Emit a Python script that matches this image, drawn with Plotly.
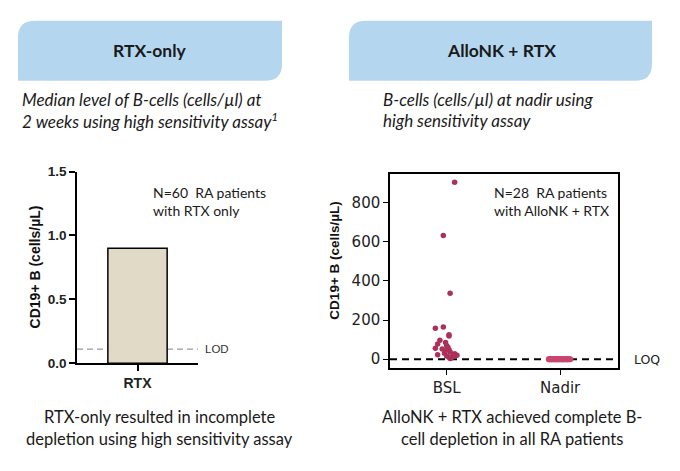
import plotly.graph_objects as go

# the page body keeps its default 8px margin on every side, so the figure is
# made 16px smaller than the 680x471 window and positions are shifted by 8px
OFF = 8
W, H = 680 - 2 * OFF, 471 - 2 * OFF

# ---- data ----
rtx_cats = ["RTX"]
rtx_median = [0.90]
lod_value = 0.11

groups = ["BSL", "Nadir"]
bsl_values = [904, 632, 337, 158, 164, 125, 118, 97, 85, 77, 69, 61, 56, 48,
              44, 36, 28, 23, 23, 20, 16, 16, 10, 6, 3, 30, 52, 12]
bsl_jitter = [0.07, -0.03, 0.03, -0.10, -0.03, 0.02, 0.02, -0.06, -0.01, -0.08,
              0.00, 0.01, -0.10, 0.02, -0.01, 0.03, 0.07, -0.08, 0.06, 0.09,
              0.00, 0.07, 0.02, 0.04, 0.03, -0.02, -0.04, 0.05]
nadir_values = [0] * 28
nadir_jitter = [-0.10, -0.09, -0.08, -0.07, -0.06, -0.05, -0.04, -0.03, -0.02,
                -0.01, 0.00, 0.01, 0.02, 0.03, 0.04, 0.05, 0.06, 0.07, 0.08,
                0.09, -0.095, -0.075, -0.055, -0.035, -0.015, 0.015, 0.035, 0.065]
loq_value = 0
right_ticks = [0, 200, 400, 600, 800]
left_ticks = [0.0, 0.5, 1.0, 1.5]


def px(x):
    return (x - OFF) / W


def py(y):
    return 1 - (y - OFF) / H


fig = go.Figure()

# left: bar chart
fig.add_trace(go.Bar(
    x=[0], y=rtx_median, width=0.49,
    marker=dict(color="#E0DAC6", line=dict(color="black", width=1.5)),
    xaxis="x", yaxis="y", showlegend=False, hoverinfo="skip",
))

# right: dot plot
fig.add_trace(go.Scatter(
    x=[j for j in bsl_jitter], y=bsl_values, mode="markers",
    marker=dict(color="#AC3158", size=5.5),
    xaxis="x2", yaxis="y2", showlegend=False,
))
fig.add_trace(go.Scatter(
    x=[1 + j for j in nadir_jitter], y=nadir_values, mode="markers",
    marker=dict(color="#C8466E", size=6),
    xaxis="x2", yaxis="y2", showlegend=False,
))

axis_common = dict(showgrid=False, zeroline=False, linecolor="black",
                   ticks="outside", tickcolor="black")

fig.update_layout(
    width=W, height=H,
    margin=dict(l=0, r=0, t=0, b=0),
    paper_bgcolor="white", plot_bgcolor="white",
    xaxis=dict(domain=[px(77), px(198)], range=[-0.5, 0.5], anchor="y",
               tickvals=[0], ticktext=rtx_cats, linewidth=1.5, tickwidth=1.5,
               ticklen=6, tickfont=dict(family="Liberation Sans", size=14,
                                        color="#222", weight="bold"),
               **axis_common),
    yaxis=dict(domain=[py(368), py(170)], range=[0, 1.5], anchor="x",
               tickvals=left_ticks, tickformat=".1f", linewidth=1.5,
               tickwidth=1.5, ticklen=6,
               tickfont=dict(family="Liberation Sans", size=13.5, color="#222",
                             weight="bold"),
               **axis_common),
    xaxis2=dict(domain=[px(390), px(618)], range=[-0.5, 1.51], anchor="y2",
                tickvals=[0, 1], ticktext=groups, linewidth=1.5, tickwidth=1.2,
                ticklen=5, mirror=True,
                tickfont=dict(family="DejaVu Sans", size=15, color="#222"),
                **axis_common),
    yaxis2=dict(domain=[py(373), py(172)], range=[-45, 948], anchor="x2",
                tickvals=right_ticks, linewidth=1.5, tickwidth=1.2, ticklen=5,
                mirror=True,
                tickfont=dict(family="DejaVu Sans", size=15, color="#222"),
                **axis_common),
)

# LOD / LOQ reference lines
fig.add_shape(type="line", xref="x domain", yref="y", x0=0, x1=1,
              y0=lod_value, y1=lod_value, layer="below",
              line=dict(color="#999999", width=1.3, dash="6px,4px"))
fig.add_shape(type="line", xref="x2 domain", yref="y2", x0=0, x1=1,
              y0=loq_value, y1=loq_value, layer="below",
              line=dict(color="black", width=2, dash="7px,5px"))


def leaf(x0, y0, x1, y1, r):
    # rounded top-left and bottom-right corners, in paper coords
    return (f"M {px(x0)},{py(y0 + r)} Q {px(x0)},{py(y0)} {px(x0 + r)},{py(y0)} "
            f"L {px(x1)},{py(y0)} L {px(x1)},{py(y1 - r)} "
            f"Q {px(x1)},{py(y1)} {px(x1 - r)},{py(y1)} "
            f"L {px(x0)},{py(y1)} Z")


for x0, x1 in [(18, 282), (349, 652)]:
    fig.add_shape(type="path", xref="paper", yref="paper",
                  path=leaf(x0, 14, x1, 76, 17),
                  fillcolor="#B4D7EF", line=dict(width=0))


def note(x, y, text, size=15, xanchor="left", family="Lato", color="#1a1a1a",
         **kw):
    fig.add_annotation(x=px(x), y=py(y), xref="paper", yref="paper", text=text,
                       showarrow=False, xanchor=xanchor, yanchor="middle",
                       font=dict(family=family, size=size, color=color, **kw))


# headers
note(150, 45, "RTX-only", size=17.5, xanchor="center", weight="bold")
note(501, 45, "AlloNK + RTX", size=17.5, xanchor="center", weight="bold")

# subtitles
note(20, 95, "Median level of B-cells (cells/µl) at", size=17, style="italic")
note(20, 117, "2 weeks using high sensitivity assay<sup>1</sup>", size=17,
     style="italic")
note(381, 95, "B-cells (cells/µl) at nadir using", size=17, style="italic")
note(381, 117, "high sensitivity assay", size=17, style="italic")

# in-chart notes
note(151, 192, "N=60  RA patients", size=14)
note(151, 210, "with RTX only", size=14)
note(492, 192, "N=28  RA patients", size=14)
note(492, 210, "with AlloNK + RTX", size=14)
note(203, 353, "LOD", size=11.5, family="Liberation Sans", color="#333")
note(632, 364, "LOQ", size=12.5, family="DejaVu Sans", color="#222")

# axis titles
for x, y, s in [(35, 269, 14), (335, 262, 13.5)]:
    fig.add_annotation(x=px(x), y=py(y), xref="paper", yref="paper",
                       text="CD19+ B (cells/µL)", textangle=-90,
                       showarrow=False, xanchor="center", yanchor="middle",
                       font=dict(family="Liberation Sans", size=s,
                                 color="#111", weight="bold"))

# bottom conclusions
note(159, 424, "RTX-only resulted in incomplete", size=16.5, xanchor="center")
note(159, 446, "depletion using high sensitivity assay", size=16.5,
     xanchor="center")
note(512, 424, "AlloNK + RTX achieved complete B-", size=16.5, xanchor="center")
note(512, 446, "cell depletion in all RA patients", size=16.5, xanchor="center")

fig.write_html("out.html")
